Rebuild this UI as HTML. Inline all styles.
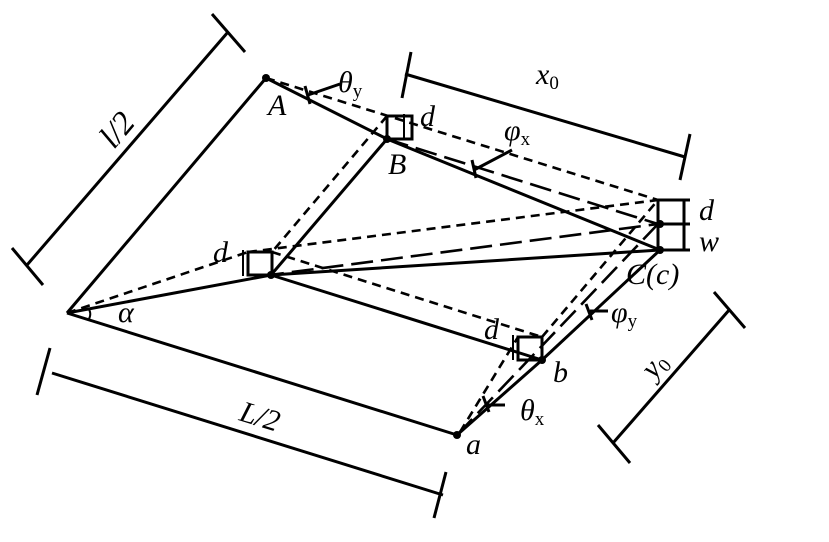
<!DOCTYPE html>
<html><head><meta charset="utf-8"><style>
html,body{margin:0;padding:0;background:#fff;}
svg{display:block;}
text{font-family:"Liberation Serif",serif;font-style:italic;fill:#000;}
</style></head><body>
<svg width="829" height="542" viewBox="0 0 829 542" xmlns="http://www.w3.org/2000/svg">
<g stroke="#000" stroke-width="3" fill="none" stroke-linecap="butt">
<line x1="67" y1="313" x2="266" y2="78"/>
<line x1="266" y1="78" x2="387" y2="139"/>
<line x1="387" y1="139" x2="660" y2="250"/>
<line x1="387" y1="139" x2="271" y2="275"/>
<line x1="67" y1="313" x2="271" y2="275"/>
<line x1="271" y1="275" x2="660" y2="250"/>
<line x1="271" y1="275" x2="542" y2="360"/>
<line x1="67" y1="313" x2="457" y2="435"/>
<line x1="457" y1="435" x2="542" y2="360"/>
<line x1="542" y1="360" x2="660" y2="250"/>
<rect x="387" y="116" width="25" height="23"/>
<rect x="248" y="252" width="24" height="23"/>
<rect x="518" y="337" width="24" height="23"/>
<line x1="658" y1="200" x2="658" y2="250"/>
<line x1="684" y1="200" x2="684" y2="250"/>
<line x1="658" y1="200" x2="690" y2="200"/>
<line x1="658" y1="224" x2="690" y2="224"/>
<line x1="658" y1="250" x2="690" y2="250"/>
<line x1="243" y1="250" x2="243" y2="276" stroke-width="2"/>
<line x1="513" y1="335" x2="513" y2="360" stroke-width="2"/>
<line x1="404" y1="114" x2="404" y2="140" stroke-width="2"/>
<g stroke-dasharray="9,6" stroke-width="2.6">
<line x1="266" y1="78" x2="658" y2="200"/>
<line x1="387" y1="116" x2="272" y2="252"/>
<line x1="67" y1="313" x2="248" y2="252"/>
<line x1="248" y1="252" x2="658" y2="200"/>
<line x1="272" y1="252" x2="542" y2="337"/>
<line x1="542" y1="337" x2="658" y2="200"/>
<line x1="460" y1="432" x2="518" y2="337"/>
</g>
<g stroke-dasharray="22,8" stroke-width="2.6">
<line x1="387" y1="139" x2="658" y2="224"/>
<line x1="262" y1="276" x2="658" y2="224"/>
<line x1="457" y1="435" x2="658" y2="224"/>
</g>
<line x1="305" y1="86" x2="310" y2="104"/><line x1="308" y1="95" x2="340" y2="84"/>
<line x1="472" y1="160" x2="476" y2="178"/><line x1="474" y1="170" x2="512" y2="150"/>
<line x1="586" y1="304" x2="592" y2="320"/><line x1="590" y1="311" x2="608" y2="311"/>
<line x1="483" y1="396" x2="489" y2="412"/><line x1="485" y1="405" x2="505" y2="405"/>
<line x1="27" y1="265" x2="228" y2="32"/>
<line x1="12" y1="248" x2="43" y2="285"/><line x1="212" y1="14" x2="245" y2="52"/>
<line x1="52" y1="373" x2="443" y2="495"/>
<line x1="50" y1="348" x2="37" y2="395"/><line x1="446" y1="472" x2="434" y2="518"/>
<line x1="405" y1="74" x2="685" y2="157"/>
<line x1="411" y1="52" x2="402" y2="98"/><line x1="690" y1="134" x2="680" y2="180"/>
<line x1="613" y1="443" x2="730" y2="309"/>
<line x1="598" y1="425" x2="630" y2="463"/><line x1="714" y1="292" x2="745" y2="328"/>
<path d="M88 308 Q92 313 89 319" stroke-width="2"/>
</g>
<g fill="#000">
<circle cx="266" cy="78" r="4"/><circle cx="387" cy="139" r="4"/>
<circle cx="660" cy="250" r="4"/><circle cx="660" cy="224" r="4"/>
<circle cx="271" cy="275" r="4"/><circle cx="542" cy="360" r="4"/>
<circle cx="457" cy="435" r="4"/>
</g>
<g font-size="30">
<text x="268" y="115">A</text>
<text x="388" y="174">B</text>
<text x="626" y="284">C(c)</text>
<text x="553" y="382">b</text>
<text x="466" y="454">a</text>
<text x="420" y="126">d</text>
<text x="699" y="220">d</text>
<text x="699" y="251">w</text>
<text x="213" y="262">d</text>
<text x="484" y="339">d</text>
<text x="118" y="322">α</text>
<text x="338" y="92">θ<tspan font-size="19" font-style="normal" dy="5">y</tspan></text>
<text x="504" y="140">φ<tspan font-size="19" font-style="normal" dy="5">x</tspan></text>
<text x="611" y="322">φ<tspan font-size="19" font-style="normal" dy="5">y</tspan></text>
<text x="520" y="420">θ<tspan font-size="19" font-style="normal" dy="5">x</tspan></text>
<text x="536" y="84">x<tspan font-size="19" font-style="normal" dy="5">0</tspan></text>
<text transform="translate(114,150) rotate(-50)" font-size="33">l/2</text>
<text transform="translate(238,420) rotate(17)">L/2</text>
<text transform="translate(654,380) rotate(-50)">y<tspan font-size="19" font-style="normal" dy="5">0</tspan></text>
</g>
</svg>
</body></html>
